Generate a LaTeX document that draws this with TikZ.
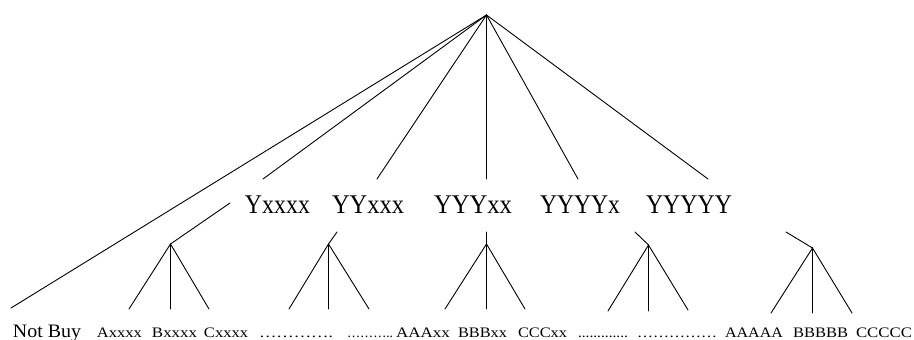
\documentclass[tikz,border=0pt]{standalone}
\usepackage{fontspec}
\setmainfont{Liberation Serif}
\usepackage{graphicx}
\newcommand{\fitw}[2]{\resizebox{#1}{\height}{#2}}
\tikzset{
  edge/.style={line width=0.9pt, line cap=round},
  ylab/.style={anchor=base, inner sep=0pt, font=\fontsize{27}{27}\selectfont},
  leaf/.style={anchor=base, inner sep=0pt, font=\fontsize{14.5}{14.5}\selectfont},
}
\begin{document}
\begin{tikzpicture}[x=1pt,y=-1pt]
\useasboundingbox (0,0) rectangle (914,340);
% root
\coordinate (root) at (486.5,15);
% second-level labels
\node[ylab] (y1) at (277.5,213) {\fitw{65pt}{Yxxxx}};
\node[ylab] (y2) at (368,213) {\fitw{72pt}{YYxxx}};
\node[ylab] (y3) at (473,213) {\fitw{78pt}{YYYxx}};
\node[ylab] (y4) at (580,213) {\fitw{80pt}{YYYYx}};
\node[ylab] (y5) at (689,213) {\fitw{86pt}{YYYYY}};
% ends of the root lines
\coordinate (t0) at (11,308);
\coordinate (t1) at (263,179);
\coordinate (t2) at (377,179);
\coordinate (t3) at (486.5,179);
\coordinate (t4) at (578,179);
\coordinate (t5) at (708,179);
\foreach \i in {0,...,5} \draw[edge] (root) -- (t\i);
% stubs below labels
\coordinate (u1) at (230,203);
\coordinate (u2) at (337,232);
\coordinate (u3) at (486.5,232);
\coordinate (u4) at (635,232);
\coordinate (u5) at (786,232);
% subtree apexes
\coordinate (s1) at (170.5,244);
\coordinate (s2) at (328.5,244);
\coordinate (s3) at (486.5,244);
\coordinate (s4) at (648.5,245);
\coordinate (s5) at (812.5,248);
\foreach \i in {1,...,5} \draw[edge] (u\i) -- (s\i);
% leaves
\coordinate (a1) at (129,309); \coordinate (b1) at (170.5,309); \coordinate (c1) at (209,309);
\coordinate (a2) at (289,309); \coordinate (b2) at (328.5,309); \coordinate (c2) at (369,309);
\coordinate (a3) at (445,309); \coordinate (b3) at (486.5,309); \coordinate (c3) at (525,309);
\coordinate (a4) at (608,311); \coordinate (b4) at (648.5,311); \coordinate (c4) at (688,310);
\coordinate (a5) at (771,313); \coordinate (b5) at (812.5,313); \coordinate (c5) at (852,313);
\foreach \i in {1,...,5} \draw[edge] (a\i) -- (s\i) -- (c\i) (s\i) -- (b\i);
% bottom labels
\node[leaf, font=\fontsize{19}{19}\selectfont] (nb) at (47,337.5) {\fitw{68pt}{Not Buy}};
\node[leaf] (l1) at (119.5,337.5) {\fitw{45pt}{Axxxx}};
\node[leaf] (l2) at (174.5,337.5) {\fitw{45pt}{Bxxxx}};
\node[leaf] (l3) at (226,337.5) {\fitw{44pt}{Cxxxx}};
\node[leaf] (l4) at (296,337.5) {\fitw{74pt}{………….}};
\node[leaf] (l5) at (370,337.5) {\fitw{46pt}{………..}};
\node[leaf] (l6) at (423,337.5) {\fitw{54pt}{AAAxx}};
\node[leaf] (l7) at (482.5,337.5) {\fitw{49pt}{BBBxx}};
\node[leaf] (l8) at (542.5,337.5) {\fitw{49pt}{CCCxx}};
\node[leaf] (l9) at (603,337.5) {\fitw{50pt}{.............}};
\node[leaf] (l10) at (677,337.5) {\fitw{80pt}{……………}};
\node[leaf] (l11) at (754,337.5) {\fitw{58pt}{AAAAA}};
\node[leaf] (l12) at (820.5,337.5) {\fitw{55pt}{BBBBB}};
\node[leaf] (l13) at (884,337.5) {\fitw{56pt}{CCCCC}};
\end{tikzpicture}
\end{document}
